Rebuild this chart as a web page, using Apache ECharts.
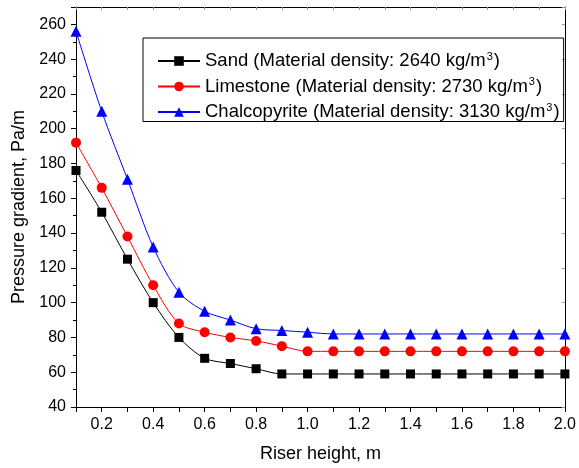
<!DOCTYPE html>
<html>
<head>
<meta charset="utf-8">
<script src="https://cdn.jsdelivr.net/npm/echarts@6/dist/echarts.min.js"></script>
<style>
html, body { margin: 0; padding: 0; background: #fff; }
#main { width: 579px; height: 468px; }
</style>
</head>
<body>
<div id="main"></div>
<script>
/* data */
let riserHeight = [0.1, 0.2, 0.3, 0.4, 0.5, 0.6, 0.7, 0.8, 0.9, 1.0, 1.1, 1.2, 1.3, 1.4, 1.5, 1.6, 1.7, 1.8, 1.9, 2.0];
let sand = [176, 152, 125, 100, 80, 68, 65, 62, 59, 59, 59, 59, 59, 59, 59, 59, 59, 59, 59, 59];
let limestone = [192, 166, 138, 110, 88, 83, 80, 78, 75, 72, 72, 72, 72, 72, 72, 72, 72, 72, 72, 72];
let chalcopyrite = [256, 210, 171, 132, 106, 95, 90, 85, 84, 83, 82, 82, 82, 82, 82, 82, 82, 82, 82, 82];
let materials = ['Sand', 'Limestone', 'Chalcopyrite'];
let densities = [2640, 2730, 3130];
let colors = ['#000000', '#ff0000', '#0000ff'];
let symbols = ['rect', 'circle', 'triangle'];
let symbolSizes = [9, 10, 11];

let font = '"Liberation Sans", Arial, sans-serif';
let values = [sand, limestone, chalcopyrite];

// series
let series = materials.map(function (m, k) {
  return {
    name: m + ' (Material density: ' + densities[k] + ' kg/m3)',
    type: 'line',
    smooth: 0.3,
    data: riserHeight.map(function (x, i) { return [x, values[k][i]]; }),
    symbol: symbols[k],
    symbolSize: symbolSizes[k],
    showAllSymbol: true,
    itemStyle: { color: colors[k] },
    lineStyle: { color: colors[k], width: 1 }
  };
});

let myChart = echarts.init(document.getElementById('main'));
let option = {
  backgroundColor: '#fff',
  animation: false,
  textStyle: { fontFamily: font },
  grid: { left: 76, right: 7, top: 7, bottom: 59 },
  legend: {
    orient: 'vertical',
    left: 143,
    top: 38,
    padding: [13, 4, 0, 14],
    itemGap: 6,
    itemWidth: 42,
    itemHeight: 12,
    borderColor: '#000',
    borderWidth: 1,
    borderRadius: 0,
    formatter: function (name) {
      // superscript the 3 in m3
      let base = name.slice(0, -2);
      return '{t|' + base + '}{s|3}{t|)}';
    },
    textStyle: {
      color: '#000',
      fontSize: 18.5,
      fontFamily: font,
      rich: {
        t: { fontSize: 18.5, lineHeight: 20, fontFamily: font, color: '#000' },
        s: { fontSize: 11, lineHeight: 20, fontFamily: font, color: '#000', verticalAlign: 'top', padding: [0, 1, 0, 1] }
      }
    }
  },
  xAxis: [{
    type: 'value',
    min: 0.1, max: 2.0, interval: 0.1,
    name: 'Riser height, m',
    nameLocation: 'middle',
    nameGap: 38,
    nameTextStyle: { fontSize: 18, color: '#000', fontFamily: font },
    axisLine: { lineStyle: { color: '#000', width: 1 } },
    axisTick: { length: 5, lineStyle: { color: '#000' } },
    axisLabel: {
      fontSize: 16, color: '#000', margin: 10,
      formatter: function (v) { return Math.round(v * 10) % 2 === 0 ? v.toFixed(1) : ''; }
    },
    splitLine: { show: false }
  }, {
    type: 'value', position: 'top',
    min: 0.1, max: 2.0, interval: 0.1,
    axisLine: { lineStyle: { color: '#000', width: 1 } },
    axisTick: { inside: true, length: 3, lineStyle: { color: '#999' } },
    axisLabel: { show: false },
    splitLine: { show: false }
  }],
  yAxis: [{
    type: 'value',
    min: 40, max: 270, interval: 20,
    name: 'Pressure gradient, Pa/m',
    nameLocation: 'middle',
    nameGap: 47,
    nameTextStyle: { fontSize: 18, color: '#000', fontFamily: font },
    axisLine: { show: true, lineStyle: { color: '#000', width: 1 } },
    axisTick: { show: true, length: 5, lineStyle: { color: '#000' } },
    minorTick: { show: true, splitNumber: 2, length: 3, lineStyle: { color: '#000' } },
    axisLabel: { fontSize: 16, color: '#000', margin: 10, showMaxLabel: false },
    splitLine: { show: false }
  }, {
    type: 'value', position: 'right',
    min: 40, max: 270, interval: 20,
    axisLine: { show: true, lineStyle: { color: '#000', width: 1 } },
    axisTick: { show: true, inside: true, length: 3, lineStyle: { color: '#999' } },
    axisLabel: { show: false },
    splitLine: { show: false }
  }],
  series: series
};
myChart.setOption(option);
</script>
</body>
</html>
